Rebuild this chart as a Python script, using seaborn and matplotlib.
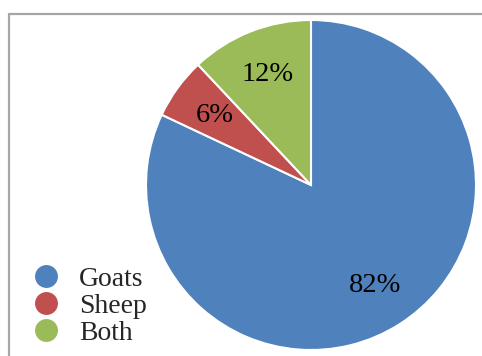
import matplotlib
matplotlib.use("Agg")
import matplotlib.pyplot as plt
import seaborn as sns
from matplotlib.lines import Line2D

# data
animals = ["Goats", "Sheep", "Both"]
shares = [82, 6, 12]
colors = ["#4F81BD", "#C0504D", "#9BBB59"]

sns.set_theme(style="white")
plt.rcParams["font.family"] = ["Liberation Serif", "DejaVu Serif"]

W, H = 482, 356
fig = plt.figure(figsize=(W / 100, H / 100), dpi=100)
ax = fig.add_axes([0, 0, 1, 1])

# pie centred at pixel (311, 185)
wedges, texts, autotexts = ax.pie(
    shares, colors=colors, startangle=90, counterclock=False,
    center=(311, H - 185), radius=165, autopct="%d%%", pctdistance=0.72,
    wedgeprops=dict(edgecolor="white", linewidth=1.5),
    textprops=dict(fontsize=20.5, color="black"), frame=True)
ax.set_xlim(0, W)
ax.set_ylim(0, H)
ax.set_aspect("equal")
ax.axis("off")

# grey frame at top and left
fig.add_artist(Line2D([9 / W, 1], [1 - 14 / H, 1 - 14 / H], color="#a6a6a6", lw=1.6))
fig.add_artist(Line2D([9 / W, 9 / W], [0, 1 - 14 / H], color="#a6a6a6", lw=1.6))

handles = [Line2D([], [], marker="o", linestyle="", markersize=17.5,
                  markerfacecolor=c, markeredgecolor="white") for c in colors]
ax.legend(handles, animals, loc="lower left", bbox_to_anchor=(15 / W, -4 / H),
          bbox_transform=fig.transFigure, frameon=False, fontsize=20,
          handletextpad=0.55, labelspacing=0.06, borderpad=0, handlelength=1.25)

fig.savefig("out.png", dpi=100)
